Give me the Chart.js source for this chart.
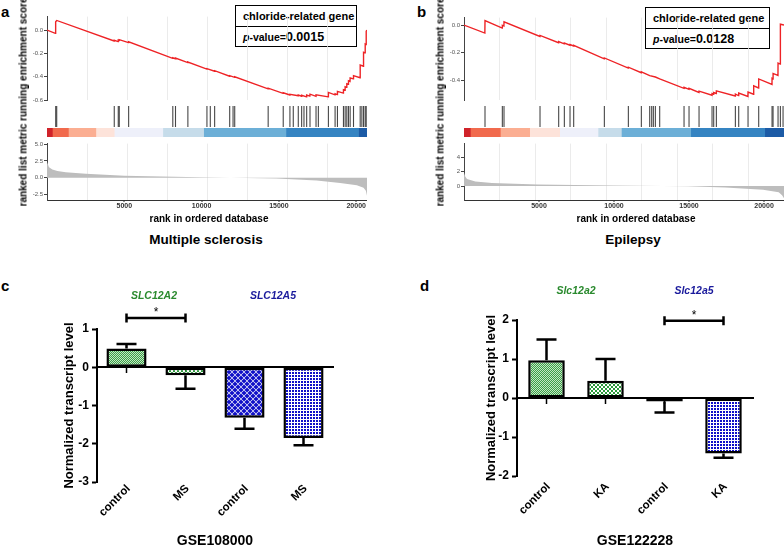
<!DOCTYPE html>
<html>
<head>
<meta charset="utf-8">
<script src="https://cdn.jsdelivr.net/npm/chart.js@4.4.0/dist/chart.umd.min.js"></script>
<style>
  body { margin: 0; background: #fff; font-family: "Liberation Sans", Arial, sans-serif; }
  #page { position: relative; width: 784px; height: 551px; overflow: hidden; }
  canvas { position: absolute; }
  .t { position: absolute; white-space: nowrap; color: #000; transform: translate(-50%, -50%); }
  .letter { position: absolute; font-weight: bold; font-size: 15px; }
  .box { position: absolute; border: 1.5px solid #000; box-sizing: border-box; font-weight: bold; }
  .box div { height: 50%; box-sizing: border-box; padding-left: 7px; display: flex; align-items: center; }
  .box div + div { border-top: 1.5px solid #000; }
</style>
</head>
<body>
<div id="page">
  <div class="letter" style="left:1px;top:3px">a</div>
  <div class="letter" style="left:417px;top:3px">b</div>
  <div class="letter" style="left:1px;top:277px">c</div>
  <div class="letter" style="left:420px;top:277px">d</div>

  <div class="box" style="left:235px;top:5px;width:122px;height:42px">
    <div style="font-size:11px">chloride-related gene</div>
    <div style="font-size:10.5px"><i>p</i>-value=<span style="font-size:12.5px">0.0015</span></div>
  </div>
  <div class="box" style="left:645px;top:7px;width:125px;height:42px">
    <div style="font-size:11px">chloride-related gene</div>
    <div style="font-size:10.5px"><i>p</i>-value=<span style="font-size:12.5px">0.0128</span></div>
  </div>
</div>
<script>
// ---------- a : GSEA, multiple sclerosis ----------
const esRankA = [0, 540, 560, 630, 4340, 4351, 4600, 4610, 4670, 4675, 5270, 5281, 8130, 8138, 8300, 8312,
  9110, 9113, 10340, 10346, 10840, 10844, 11810, 11818, 12140, 12143, 14300, 14307, 15270, 15281, 15710, 15714,
  16250, 16255, 16470, 16472, 16790, 16797, 17000, 17013, 17400, 17403, 18200, 18203, 18630, 18636, 18780, 18788,
  19170, 19177, 19280, 19286, 19390, 19394, 19500, 19502, 19600, 19610, 19820, 19827, 20250, 20260, 20470, 20476,
  20580, 20584, 20640, 20649, 20700];
const esValA = [0.0, -0.028, 0.07, 0.082, -0.094, -0.088, -0.099, -0.086, -0.089, -0.082, -0.108, -0.101, -0.242, -0.237, -0.245, -0.24,
  -0.279, -0.274, -0.334, -0.33, -0.352, -0.348, -0.395, -0.39, -0.405, -0.4, -0.503, -0.497, -0.542, -0.537, -0.556, -0.55,
  -0.562, -0.556, -0.566, -0.558, -0.572, -0.556, -0.565, -0.549, -0.567, -0.555, -0.572, -0.534, -0.555, -0.545, -0.552, -0.525,
  -0.54, -0.51, -0.515, -0.485, -0.49, -0.46, -0.465, -0.435, -0.44, -0.41, -0.418, -0.39, -0.408, -0.3, -0.31, -0.19,
  -0.195, -0.12, -0.125, -0.01, 0.0];
const hitsA = [563, 628, 4351, 4610, 4675, 5281, 8138, 8312, 9113, 10346, 10563, 10844, 11818, 12035, 12143, 14307,
  15281, 15714, 15931, 16255, 16472, 16623, 16797, 17013, 17403, 17554, 18203, 18636, 18788, 19177, 19286, 19394,
  19502, 19610, 19827, 20260, 20368, 20476, 20584, 20649];
const metricRankA = [0, 130, 346, 671, 1212, 2511, 5000, 9870, 14848, 17446, 18961, 20043, 20476, 20628, 20700];
const metricValA = [2.36, 1.56, 1.23, 0.99, 0.8, 0.57, 0.28, 0.05, -0.14, -0.42, -0.8, -1.13, -1.5, -1.98, -2.7];
const bandEdgesA = [0, 346, 1385, 3160, 4350, 7490, 10130, 15455, 20150, 20700];

// ---------- b : GSEA, epilepsy ----------
const esRankB = [0, 1390, 1400, 2550, 2556, 2660, 2667, 5060, 5067, 6300, 6311, 6680, 6689, 7060, 7067, 7300, 7311,
  9350, 9356, 10950, 10956, 11815, 11822, 12378, 12756, 13044, 14660, 14667, 14995, 15000, 15660, 15667,
  16530, 16533, 16640, 16644, 16815, 16822, 18080, 18089, 18300, 18311, 18925, 18933, 19300, 19310, 19640, 19644,
  20530, 20533, 20598, 20603, 20928, 20933, 21085, 21089, 21330];
const esValB = [0.0, -0.058, 0.032, -0.022, -0.002, -0.007, 0.024, -0.082, -0.075, -0.128, -0.12, -0.136, -0.13, -0.146, -0.141, -0.151, -0.147,
  -0.244, -0.238, -0.311, -0.305, -0.345, -0.338, -0.366, -0.376, -0.39, -0.458, -0.45, -0.465, -0.457, -0.487, -0.478,
  -0.508, -0.495, -0.5, -0.488, -0.495, -0.476, -0.513, -0.5, -0.51, -0.492, -0.516, -0.485, -0.5, -0.44, -0.455, -0.39,
  -0.43, -0.385, -0.39, -0.35, -0.365, -0.275, -0.282, 0.006, 0.0];
const hitsB = [1400, 2556, 2667, 5067, 6311, 6689, 7067, 7311, 9356, 10956, 11822, 12378, 12511, 12622, 12756, 13044,
  14667, 15000, 15667, 16533, 16644, 16822, 18089, 18311, 18933, 19644, 20533, 20600, 20933, 21089, 21267];
const metricRankB = [0, 89, 200, 755, 1867, 4911, 9867, 14911, 17422, 19933, 20978, 21200, 21330];
const metricValB = [1.9, 1.28, 0.98, 0.64, 0.43, 0.21, 0.09, -0.04, -0.21, -0.51, -0.85, -1.28, -1.7];
const bandEdgesB = [0, 422, 2422, 4378, 6378, 8933, 10489, 15111, 20044, 21330];

const bandColors = ['#d0232a', '#f16a4d', '#fbae92', '#fde3da', '#eef0fa', '#c6dcea', '#6cafd7', '#3584c2', '#1c5ba6'];
const rankTicks = [5000, 10000, 15000, 20000];

// ---------- c : GSE108000 ----------
const groupsC = ['control', 'MS', 'control', 'MS'];
const meanC = [0.49, -0.21, -1.32, -1.85];
const semC = [0.12, 0.35, 0.29, 0.19];
const sigC = [0, 1, 1.29];   // bar from, bar to, height

// ---------- d : GSE122228 ----------
const groupsD = ['control', 'KA', 'control', 'KA'];
const meanD = [0.97, 0.44, -0.09, -1.42];
const semD = [0.53, 0.56, 0.28, 0.11];
const sigD = [2, 3, 1.98];

Chart.defaults.font.family = '"Liberation Sans", Arial, sans-serif';
Chart.defaults.animation = false;
Chart.defaults.responsive = false;
Chart.defaults.plugins.legend.display = false;
Chart.defaults.plugins.tooltip.enabled = false;

const page = document.getElementById('page');

function makeCanvas(x, y, w, h) {
  const c = document.createElement('canvas');
  c.width = w; c.height = h;
  c.style.left = x + 'px'; c.style.top = y + 'px';
  c.style.width = w + 'px'; c.style.height = h + 'px';
  page.appendChild(c);
  return c;
}

function text(str, x, y, css) {
  const d = document.createElement('div');
  d.className = 't';
  d.style.left = x + 'px'; d.style.top = y + 'px';
  d.style.cssText += css;
  d.innerHTML = str;
  page.appendChild(d);
}

const pts = (xs, ys) => xs.map((x, i) => ({ x: x, y: ys[i] }));
const noPad = { padding: 0, autoPadding: false };
const YW = 30;

// rank labels are drawn from the x scale's own ticks
const rankLabels = {
  id: 'rankLabels',
  afterDraw(chart) {
    const x = chart.scales.x, ctx = chart.ctx, top = chart.chartArea.bottom;
    ctx.save();
    ctx.fillStyle = '#333'; ctx.font = 'bold 7px "Liberation Sans"';
    ctx.textAlign = 'center'; ctx.textBaseline = 'top';
    rankTicks.forEach(v => {
      ctx.fillText(String(v), x.getPixelForValue(v), top + 3);
      ctx.fillRect(Math.round(x.getPixelForValue(v)) - 0.5, top, 1, 2);
    });
    ctx.restore();
  }
};

function rankAxis(max, labels) {
  return {
    type: 'linear', min: 0, max: max,
    border: { display: labels, color: '#333', width: 1 },
    grid: { color: '#e6e6e6', lineWidth: 0.8, drawTicks: false },
    ticks: { display: false, stepSize: 2500, includeBounds: false },
    afterFit: s => { s.height = 0; }
  };
}

function valueAxis(min, max, step, digits) {
  return {
    min: min, max: max,
    border: { display: true, color: '#444', width: 1 },
    grid: { drawOnChartArea: false, tickLength: 3, tickColor: '#444' },
    ticks: { stepSize: step, includeBounds: false, padding: 1, font: { size: 6 }, color: '#555',
      callback: v => v.toFixed(digits) },
    afterFit: s => { s.width = YW; }
  };
}

function gsea(p) {
  const w = p.right - p.left;
  // running enrichment score
  new Chart(makeCanvas(p.left - YW, p.esTop, w + YW, p.esBot - p.esTop), {
    type: 'line',
    data: { datasets: [{ data: pts(p.esRank, p.esVal), borderColor: '#ee2326', borderWidth: 1.4, pointRadius: 0 }] },
    options: { layout: noPad, scales: { x: rankAxis(p.max, false), y: valueAxis(p.esMin, p.esMax, 0.2, 1) } }
  });
  // gene set hits
  const hh = p.hitBot - p.hitTop;
  new Chart(makeCanvas(p.left, p.hitTop, w, hh), {
    type: 'scatter',
    data: { datasets: [{ data: p.hits.map(r => ({ x: r, y: 0 })), pointStyle: 'line', pointRotation: 90,
      pointRadius: hh / 2, pointBorderColor: 'rgba(25,25,25,0.8)', pointBorderWidth: 1.1, clip: false }] },
    options: { layout: noPad, scales: { x: { type: 'linear', display: false, min: 0, max: p.max },
      y: { display: false, min: -1, max: 1 } } }
  });
  // colour band of the ranked list
  new Chart(makeCanvas(p.left, p.bandTop, w, p.bandBot - p.bandTop), {
    type: 'bar',
    data: { labels: ['band'], datasets: p.band.slice(1).map((e, i) => ({
      data: [[p.band[i], e]], backgroundColor: bandColors[i], borderWidth: 0, grouped: false,
      barPercentage: 1, categoryPercentage: 1 })) },
    options: { indexAxis: 'y', layout: noPad, scales: { x: { type: 'linear', display: false, min: 0, max: p.max },
      y: { display: false } } }
  });
  // ranked list metric
  new Chart(makeCanvas(p.left - YW, p.metTop, w + YW, p.metBot - p.metTop + 14), {
    type: 'line',
    data: { datasets: [{ data: pts(p.mRank, p.mVal), borderWidth: 0, borderColor: 'rgba(0,0,0,0)',
      backgroundColor: '#bdbdbd', fill: 'origin', pointRadius: 0 }] },
    options: { layout: { padding: { bottom: 14 }, autoPadding: false },
      scales: { x: rankAxis(p.max, true), y: valueAxis(p.mMin, p.mMax, p.mStep, p.mDigits) } },
    plugins: [rankLabels]
  });
}

gsea({ left: 47, right: 367, esTop: 12, esBot: 105, hitTop: 106, hitBot: 127, bandTop: 128, bandBot: 137,
  metTop: 139, metBot: 200, max: 20700, esMin: -0.602, esMax: 0.115, mMin: -3.35, mMax: 5.1, mStep: 2.5, mDigits: 1,
  esRank: esRankA, esVal: esValA, hits: hitsA, band: bandEdgesA, mRank: metricRankA, mVal: metricValA });
gsea({ left: 464, right: 784, esTop: 13, esBot: 105, hitTop: 106, hitBot: 127, bandTop: 128, bandBot: 137,
  metTop: 139, metBot: 200, max: 21330, esMin: -0.545, esMax: 0.054, mMin: -1.94, mMax: 5.9, mStep: 2, mDigits: 0,
  esRank: esRankB, esVal: esValB, hits: hitsB, band: bandEdgesB, mRank: metricRankB, mVal: metricValB });

const yTitle = 'ranked list metric running enrichment score';
text(yTitle, 23, 102, 'font-size:10px;font-weight:bold;transform:translate(-50%,-50%) rotate(-90deg)');
text(yTitle, 440, 102, 'font-size:10px;font-weight:bold;transform:translate(-50%,-50%) rotate(-90deg)');
text('rank in ordered database', 209, 218, 'font-size:10px;font-weight:bold');
text('rank in ordered database', 636, 218, 'font-size:10px;font-weight:bold');
text('Multiple sclerosis', 206, 239, 'font-size:13.5px;font-weight:bold');
text('Epilepsy', 633, 239, 'font-size:13.5px;font-weight:bold');

// ---------- bar fills (GraphPad-like hatching) ----------
function pattern(size, draw) {
  const c = document.createElement('canvas');
  c.width = c.height = size;
  const g = c.getContext('2d');
  g.fillStyle = '#fff'; g.fillRect(0, 0, size, size);
  draw(g);
  return g.createPattern(c, 'repeat');
}
const GREEN = '#2a9a3a', BLUE = '#1010c8';
const fineGreen = pattern(2, g => {
  g.fillStyle = '#c4e6c4'; g.fillRect(0, 0, 2, 2);
  g.fillStyle = '#3b9f48'; g.fillRect(0, 0, 1, 1); g.fillRect(1, 1, 1, 1);
});
const coarseGreen = pattern(4, g => { g.fillStyle = GREEN; g.fillRect(0, 0, 2, 2); g.fillRect(2, 2, 2, 2); });
const diamondBlue = pattern(6, g => {
  g.fillStyle = BLUE;
  [[0, 0], [6, 0], [0, 6], [6, 6], [3, 3]].forEach(([cx, cy]) => {
    g.beginPath(); g.moveTo(cx, cy - 2.6); g.lineTo(cx + 2.6, cy); g.lineTo(cx, cy + 2.6); g.lineTo(cx - 2.6, cy); g.closePath(); g.fill();
  });
});
const gridBlue = pattern(3, g => { g.fillStyle = BLUE; g.fillRect(0, 0, 2, 2); });

const errorBars = {
  id: 'errorBars',
  afterDatasetsDraw(chart, args, o) {
    const ctx = chart.ctx, y = chart.scales.y, bars = chart.getDatasetMeta(0).data;
    ctx.save();
    ctx.strokeStyle = '#000'; ctx.lineWidth = 2.5;
    o.mean.forEach((m, i) => {
      const px = bars[i].x, dir = m >= 0 ? 1 : -1;
      const y0 = y.getPixelForValue(m), y1 = y.getPixelForValue(m + dir * o.sem[i]);
      ctx.beginPath();
      ctx.moveTo(px, y0); ctx.lineTo(px, y1);
      ctx.moveTo(px - 10, y1); ctx.lineTo(px + 10, y1);
      ctx.stroke();
    });
    const xa = bars[o.sig[0]].x, xb = bars[o.sig[1]].x, ys = y.getPixelForValue(o.sig[2]);
    ctx.beginPath();
    ctx.moveTo(xa, ys); ctx.lineTo(xb, ys);
    ctx.moveTo(xa, ys - 4.5); ctx.lineTo(xa, ys + 4.5);
    ctx.moveTo(xb, ys - 4.5); ctx.lineTo(xb, ys + 4.5);
    ctx.stroke();
    ctx.fillStyle = '#000'; ctx.font = '12px "Liberation Sans"';
    ctx.textAlign = 'center'; ctx.textBaseline = 'middle';
    ctx.fillText('*', (xa + xb) / 2, ys - 5);
    ctx.restore();
  }
};

function barPanel(p) {
  new Chart(makeCanvas(p.cx, 300, p.cw, 251), {
    type: 'bar',
    data: { labels: p.groups, datasets: [{ data: p.mean, backgroundColor: [fineGreen, coarseGreen, diamondBlue, gridBlue],
      borderColor: '#000', borderWidth: 2.5, borderSkipped: false, barPercentage: p.barPct, categoryPercentage: 1 }] },
    options: {
      layout: { padding: { top: p.padTop, right: p.padRight, left: 0, bottom: 0 }, autoPadding: false },
      plugins: { errorBars: { mean: p.mean, sem: p.sem, sig: p.sig } },
      scales: {
        x: {
          grid: { display: false }, border: { display: false },
          ticks: { color: '#000', font: { size: 11.5, weight: 'bold' }, minRotation: 45, maxRotation: 45,
            padding: p.labelPad, labelOffset: 2, autoSkip: false },
          title: { display: true, text: p.name, color: '#000', font: { size: 14, weight: 'bold' }, padding: { top: 0, bottom: 1 } },
          afterFit: s => { s.height = p.xh; }
        },
        x0: {
          axis: 'x', type: 'category', labels: p.groups, position: { y: 0 }, offset: true, z: 1,
          ticks: { display: false },
          grid: { drawOnChartArea: false, offset: false, tickLength: 5, tickWidth: 1.5, tickColor: '#000' },
          border: { color: '#000', width: 2 }
        },
        y: {
          min: p.min, max: p.max,
          ticks: { stepSize: 1, color: '#000', font: { size: 12, weight: 'bold' }, padding: 3 },
          grid: { drawOnChartArea: false, tickLength: 5, tickWidth: 2, tickColor: '#000' },
          border: { color: '#000', width: 2 },
          title: { display: true, text: 'Normalized transcript level', color: '#000', font: { size: 13, weight: 'bold' }, padding: { top: 7, bottom: 0 } },
          afterFit: s => { s.width = p.yw; }
        }
      }
    },
    plugins: [errorBars]
  });
}

barPanel({ cx: 55, cw: 337, padTop: 29, padRight: 59, xh: 69, yw: 42, labelPad: -8, barPct: 0.68, min: -3, max: 1,
  groups: groupsC, mean: meanC, sem: semC, sig: sigC, name: 'GSE108000' });
barPanel({ cx: 477, cw: 307, padTop: 20, padRight: 31, xh: 75, yw: 40, labelPad: -4, barPct: 0.62, min: -2, max: 2,
  groups: groupsD, mean: meanD, sem: semD, sig: sigD, name: 'GSE122228' });

const geneCss = 'font-size:10.5px;font-weight:bold;font-style:italic;';
text('SLC12A2', 154, 295, geneCss + 'color:#2a8a2e');
text('SLC12A5', 273, 295, geneCss + 'color:#1a1a9c');
text('Slc12a2', 576, 290, geneCss + 'color:#2a8a2e');
text('Slc12a5', 694, 290, geneCss + 'color:#1a1a9c');
</script>
</body>
</html>
